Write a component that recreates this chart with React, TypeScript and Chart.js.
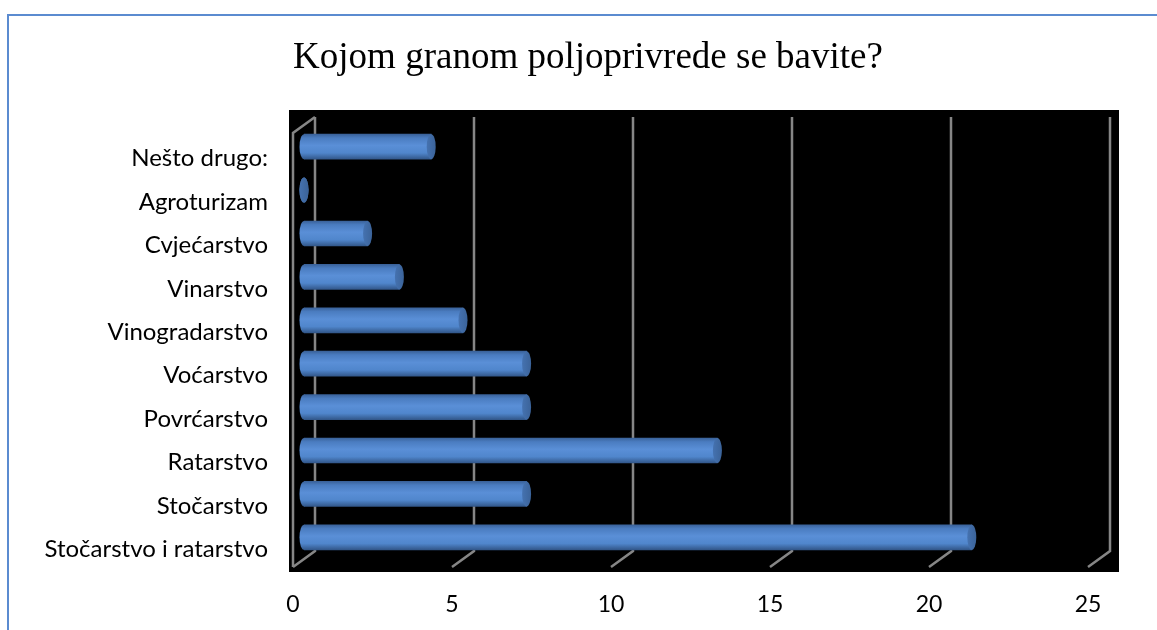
import { useEffect, useRef } from "react";
import { Chart, registerables } from "chart.js";

Chart.register(...registerables);

const TITLE = "Kojom granom poljoprivrede se bavite?";
const categories = [
  "Nešto drugo:",
  "Agroturizam",
  "Cvjećarstvo",
  "Vinarstvo",
  "Vinogradarstvo",
  "Voćarstvo",
  "Povrćarstvo",
  "Ratarstvo",
  "Stočarstvo",
  "Stočarstvo i ratarstvo",
];
const values = [4, 0, 2, 3, 5, 7, 7, 13, 7, 21];
const xTicks = [0, 5, 10, 15, 20, 25];

const DX = 22;
const DY = -16;
const BAR_H = 25;
const CAP_RX = 4.5;

function barGradient(ctx: CanvasRenderingContext2D, y: number) {
  const g = ctx.createLinearGradient(0, y - BAR_H / 2, 0, y + BAR_H / 2);
  g.addColorStop(0, "#3a629a");
  g.addColorStop(0.15, "#4a7cc0");
  g.addColorStop(0.45, "#5a8fd7");
  g.addColorStop(0.75, "#5086cc");
  g.addColorStop(1, "#32578a");
  return g;
}

const backdrop = {
  id: "backdrop",
  beforeDraw(chart: any) {
    const { ctx, chartArea: a, width, height } = chart;
    const xs = chart.scales.x;
    ctx.save();
    ctx.fillStyle = "#ffffff";
    ctx.fillRect(0, 0, width, height);
    // outer border
    ctx.strokeStyle = "#5b8bd0";
    ctx.lineWidth = 2;
    ctx.beginPath();
    ctx.moveTo(8, height + 10);
    ctx.lineTo(8, 15);
    ctx.lineTo(width + 10, 15);
    ctx.stroke();
    // title
    ctx.fillStyle = "#000";
    ctx.font = '37px "Liberation Serif", "Times New Roman", serif';
    ctx.textAlign = "center";
    ctx.textBaseline = "alphabetic";
    ctx.fillText(TITLE, 588, 68);
    // black plot
    ctx.fillStyle = "#000000";
    ctx.fillRect(a.left - 4, a.top - 23, a.right - a.left + 35, a.bottom - a.top + 28);
    // 3D grid
    ctx.strokeStyle = "#868686";
    ctx.lineWidth = 2.5;
    ctx.lineJoin = "miter";
    xTicks.forEach((v) => {
      const fx = xs.getPixelForValue(v);
      const bx = fx + DX;
      ctx.beginPath();
      ctx.moveTo(bx, a.top + DY);
      ctx.lineTo(bx, a.bottom + DY);
      ctx.lineTo(fx, a.bottom);
      ctx.stroke();
    });
    const f0 = xs.getPixelForValue(0);
    ctx.beginPath();
    ctx.moveTo(f0 + DX, a.top + DY);
    ctx.lineTo(f0, a.top);
    ctx.lineTo(f0, a.bottom);
    ctx.stroke();
    ctx.restore();
  },
  beforeDatasetsDraw(chart: any) {
    chart.ctx.save();
    chart.ctx.translate(DX / 2, DY / 2);
  },
  afterDatasetsDraw(chart: any) {
    const ctx = chart.ctx;
    const meta = chart.getDatasetMeta(0);
    meta.data.forEach((el: any) => {
      const y = el.y;
      if (!isFinite(y)) return;
      // base cap (rounded start)
      ctx.fillStyle = barGradient(ctx, y);
      ctx.beginPath();
      ctx.ellipse(el.base, y, CAP_RX, BAR_H / 2, 0, 0, Math.PI * 2);
      ctx.fill();
      // end cap
      const g = ctx.createLinearGradient(el.x - CAP_RX, 0, el.x + CAP_RX, 0);
      g.addColorStop(0, "#4572b0");
      g.addColorStop(1, "#3b6399");
      ctx.fillStyle = g;
      ctx.beginPath();
      ctx.ellipse(el.x, y, CAP_RX, BAR_H / 2, 0, 0, Math.PI * 2);
      ctx.fill();
    });
    ctx.restore();
  },
};

export default function App() {
  const ref = useRef<HTMLCanvasElement | null>(null);
  useEffect(() => {
    if (!ref.current) return;
    const chart = new Chart(ref.current, {
      type: "bar",
      data: {
        labels: categories,
        datasets: [
          {
            data: values,
            barThickness: BAR_H,
            borderWidth: 0,
            backgroundColor: (c: any) => {
              const ys = c.chart.scales?.y;
              if (!ys || c.dataIndex === undefined) return "#4f81bd";
              const py = ys.getPixelForValue(c.dataIndex);
              if (!isFinite(py)) return "#4f81bd";
              return barGradient(c.chart.ctx, py);
            },
          },
        ],
      },
      options: {
        indexAxis: "y",
        responsive: false,
        animation: false,
        devicePixelRatio: 1,
        layout: { padding: { top: 133, right: 69, bottom: 0, left: 0 } },
        plugins: { legend: { display: false }, title: { display: false }, tooltip: { enabled: false } },
        scales: {
          x: {
            type: "linear",
            min: 0,
            max: 25,
            grid: { display: false },
            border: { display: false },
            afterFit: (s: any) => {
              s.height = 63;
            },
            afterBuildTicks: (s: any) => {
              s.ticks = xTicks.map((v) => ({ value: v }));
            },
            ticks: {
              padding: 16,
              color: "#000",
              font: { family: "Lato", size: 23 },
            },
          },
          y: {
            grid: { display: false },
            border: { display: false },
            afterFit: (s: any) => {
              s.width = 293;
            },
            ticks: {
              padding: 17,
              labelOffset: 4,
              color: "#000",
              font: { family: "Lato", size: 24 },
            },
          },
        },
      },
      plugins: [backdrop],
    } as any);
    return () => chart.destroy();
  }, []);
  return (
    <div style={{ position: "fixed", left: 0, top: 0, width: 1157, height: 630 }}>
      <canvas ref={ref} width={1157} height={630} style={{ width: 1157, height: 630, display: "block" }} />
    </div>
  );
}
